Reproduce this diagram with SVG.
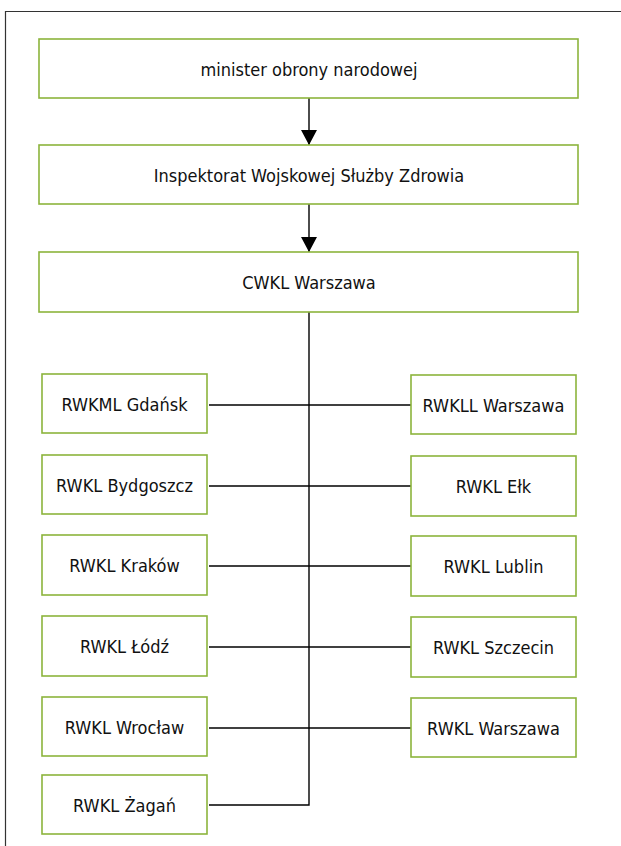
<svg xmlns="http://www.w3.org/2000/svg" width="621" height="846" viewBox="0 0 621 846">
<style>
.box{fill:#fff;stroke:#8cb43c;stroke-width:1.6}
.t{font-family:"Liberation Sans Narrow","DejaVu Sans Condensed","Liberation Sans",sans-serif;font-size:18px;fill:#111;text-anchor:middle;dominant-baseline:central}
.ln{stroke:#000;stroke-width:1.4;fill:none}
</style>
<defs>
<marker id="ah" markerWidth="15" markerHeight="16" refX="15" refY="8" orient="auto" markerUnits="userSpaceOnUse">
<path d="M0,0 L15,8 L0,16 Z" fill="#000"/>
</marker>
</defs>
<rect width="621" height="846" fill="#fff"/>
<path d="M5.5,846 V11.5 H621" stroke="#333" stroke-width="1.2" fill="none"/>
<g id="connectors">
<line class="ln" x1="309" y1="98" x2="309" y2="145" marker-end="url(#ah)"/>
<line class="ln" x1="309" y1="204" x2="309" y2="252" marker-end="url(#ah)"/>
<path class="ln" d="M309,312 V805 H209"/>
<line class="ln" x1="209" y1="405" x2="411" y2="405"/>
<line class="ln" x1="209" y1="486" x2="411" y2="486"/>
<line class="ln" x1="209" y1="566" x2="411" y2="566"/>
<line class="ln" x1="209" y1="647" x2="411" y2="647"/>
<line class="ln" x1="209" y1="728" x2="411" y2="728"/>
</g>
<g id="n_minister"><rect class="box" x="39" y="39" width="539" height="59"/><text class="t" x="309" y="69">minister obrony narodowej</text></g>
<g id="n_iwsz"><rect class="box" x="39" y="145" width="539" height="59"/><text class="t" x="309" y="175">Inspektorat Wojskowej Służby Zdrowia</text></g>
<g id="n_cwkl"><rect class="box" x="39" y="252" width="539" height="60"/><text class="t" x="309" y="282">CWKL Warszawa</text></g>
<g id="n_gdansk"><rect class="box" x="42" y="374" width="165" height="59"/><text class="t" x="124.5" y="404">RWKML Gdańsk</text></g>
<g id="n_bydgoszcz"><rect class="box" x="42" y="455" width="165" height="59"/><text class="t" x="124.5" y="485">RWKL Bydgoszcz</text></g>
<g id="n_krakow"><rect class="box" x="42" y="535" width="165" height="60"/><text class="t" x="124.5" y="565">RWKL Kraków</text></g>
<g id="n_lodz"><rect class="box" x="42" y="616" width="165" height="60"/><text class="t" x="124.5" y="646">RWKL Łódź</text></g>
<g id="n_wroclaw"><rect class="box" x="42" y="697" width="165" height="59"/><text class="t" x="124.5" y="727">RWKL Wrocław</text></g>
<g id="n_zagan"><rect class="box" x="42" y="775" width="165" height="59"/><text class="t" x="124.5" y="805">RWKL Żagań</text></g>
<g id="n_wwarszawa"><rect class="box" x="411" y="375" width="165" height="59"/><text class="t" x="493.5" y="405">RWKLL Warszawa</text></g>
<g id="n_elk"><rect class="box" x="411" y="456" width="165" height="60"/><text class="t" x="493.5" y="486">RWKL Ełk</text></g>
<g id="n_lublin"><rect class="box" x="411" y="536" width="165" height="60"/><text class="t" x="493.5" y="566">RWKL Lublin</text></g>
<g id="n_szczecin"><rect class="box" x="411" y="617" width="165" height="60"/><text class="t" x="493.5" y="647">RWKL Szczecin</text></g>
<g id="n_warszawa"><rect class="box" x="411" y="698" width="165" height="59"/><text class="t" x="493.5" y="728">RWKL Warszawa</text></g>
</svg>
